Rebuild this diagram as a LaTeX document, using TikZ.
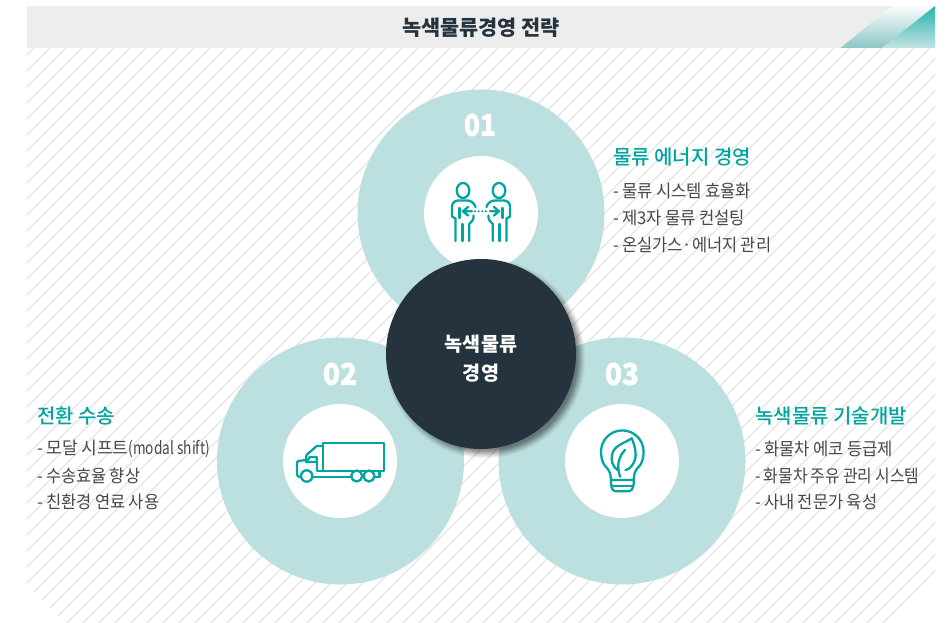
\documentclass[tikz,border=0pt]{standalone}
\usepackage{graphicx}
\usepackage{fontspec}
\setmainfont{Noto Sans CJK KR}
\newfontfamily\itemf{Noto Sans CJK KR}[WordSpace=.9]
\newfontfamily\latf{Noto Sans CJK KR}[FakeStretch=.8,WordSpace=1.1]
\newfontfamily\medf{Noto Sans CJK KR Medium}
\newfontfamily\blackf{Noto Sans CJK KR Black}[FakeBold=1.5]
\newcommand\fitw[2]{\resizebox{#1pt}{\height}{#2}}
\usetikzlibrary{arrows.meta}
\definecolor{tealc}{HTML}{00A5A0}
\definecolor{pale}{HTML}{BCE0E0}
\definecolor{darkc}{HTML}{24333D}
\definecolor{txtc}{HTML}{484848}
\tikzset{
  bigcirc/.style={circle,fill=pale,draw=none,minimum size=247pt,inner sep=0},
  whitecirc/.style={circle,fill=white,draw=none,minimum size=114pt,inner sep=0},
  num/.style={font=\fontsize{30}{30}\blackf,text=white,inner sep=0},
  head/.style={font=\fontsize{20}{24}\medf,text=tealc,anchor=west,inner sep=0},
  item/.style={font=\fontsize{17.5}{20}\itemf,text=txtc,anchor=west,inner sep=0},
  icon/.style={draw=tealc,line width=2.3pt,line join=round,line cap=round},
  hatch/.style={draw=black!10,line width=1.1pt}
}
\begin{document}
\begin{tikzpicture}[x=1pt,y=-1pt]
\useasboundingbox (0,0) rectangle (950,623);
\fill[white] (0,0) rectangle (950,623);
\begin{scope}
\clip (27,48) -- (935,48) -- (935,585) -- (897,623) -- (65,623) -- (27,585) -- cycle;
\foreach \k in {-40,...,70}{
  \draw[hatch] ({562+16*\k-660},660) -- ++(660,-660);
}
\end{scope}
\fill[black!7] (27,6) rectangle (935,48);
\shade[bottom color=teal!45!white,top color=teal!2!white,shading angle=0] (840.5,48) -- (892,6) -- (935,6) -- (882,48) -- cycle;
\shade[bottom color=pale!90!white,top color=tealc!85!white] (882,48) -- (935,6) -- (935,48) -- cycle;
\node[font=\fontsize{20.8}{24}\selectfont\bfseries,text=darkc,inner sep=0] (title) at (481,28) {녹색물류경영 전략};

\node[bigcirc] (c1) at (481,213) {};
\node[bigcirc] (c2) at (340.5,461) {};
\node[bigcirc] (c3) at (622,461) {};
\node[whitecirc] (w1) at (481,213) {};
\node[whitecirc] (w2) at (340,461) {};
\node[whitecirc] (w3) at (622,461) {};
\node[num] (n1) at (480,125) {\fitw{32}{01}};
\node[num] (n2) at (340,374) {\fitw{34}{02}};
\node[num] (n3) at (622,374) {\fitw{34}{03}};

% shadow
\foreach \r/\o in {100/.03,99/.04,98/.05,97/.06,96/.07,95/.08,94/.08,93/.08,92/.08}{
  \fill[black,opacity=\o] (485.5,358.5) circle (\r pt);
}
\node[circle,fill=darkc,minimum size=190pt,inner sep=0] (core) at (481,354) {};
\node[inner sep=0,align=center,text=white,font=\fontsize{19.6}{28.5}\selectfont\bfseries] (corelabel) at (481,358.5) {녹색물류\\경영};

% person icons
\foreach \m in {1,-1}{
\begin{scope}[shift={(481,0)},xscale=\m,shift={(-481,0)}]
\draw[icon] (463,190.5) ellipse (6.3 and 7.5);
\draw[icon] (455.5,241) -- (455.5,218.5) -- (452,216.5) -- (452,206.5) .. controls (452,203) and (455,200.5) .. (458,200.5) -- (467,200.5) .. controls (471,200.5) and (474.5,203) .. (475.5,207);
\draw[icon] (473.5,215.5) .. controls (474,219) and (472,222) .. (469.3,224) -- (469.3,241);
\draw[icon] (462.5,241) -- (462.5,224);
\draw[icon] (459.5,208) -- (459.5,218);
\end{scope}}
\draw[icon] (468,207) -- (463,211.3) -- (468,215.5) (463,211.3) -- (472,211.3);
\draw[icon] (494,207) -- (499,211.3) -- (494,215.5) (499,211.3) -- (490,211.3);
\draw[icon,dash pattern=on 0pt off 3.6pt] (475,211.3) -- (487,211.3);

% truck icon
\draw[icon] (323.3,442.7) rectangle (384,471);
\draw[icon] (323.3,446) -- (316.7,446) -- (306.5,455) -- (306,460) -- (298.5,461) .. controls (297,461) and (297,463) .. (297,464) -- (297,474) .. controls (297,476) and (298,477) .. (300.5,477);
\draw[icon] (310,457) -- (316.7,457) -- (316.7,462) -- (306,462) -- cycle;
\draw[icon] (316.7,462) -- (316.7,471) -- (351,471) (312.5,477) -- (351,477);
\draw[icon] (306.7,476) circle (5.7);
\draw[icon] (356.7,476) circle (5.5);
\draw[icon] (369,476) circle (5.5);
\draw[icon] (375,477) -- (379.5,477) -- (379.5,471);

% bulb icon
\draw[icon] (611,480) -- (610.5,475) .. controls (609.5,470) and (606,467) .. (604,464.5) .. controls (602,461) and (601,456) .. (601,451.7) arc (180:360:21.3) .. controls (643.6,456) and (642.6,461) .. (640.6,464.5) .. controls (638.6,467) and (635,470) .. (634.2,475) -- (634,480) -- cycle;
\draw[icon] (612,485.7) -- (633,485.7);
\draw[icon] (611,480) .. controls (611,484) and (611,491.2) .. (615.5,491.2) -- (629,491.2) .. controls (633,491.2) and (634,484) .. (634,480);
\draw[icon] (620,476.7) .. controls (617.5,468) and (618,463) .. (619.5,459) .. controls (620.5,456) and (622,453) .. (625,450);
\draw[icon] (617.5,470) .. controls (612,466) and (610.5,460) .. (612.5,453) .. controls (615,445) and (625,443) .. (631.7,438.3) .. controls (636,448) and (637,457) .. (633.5,463) .. controls (631.5,467) and (628.5,469.5) .. (625.5,470);

% labels
\node[head] (h1) at (613,157) {물류 에너지 경영};
\node[item] (i11) at (613,190.5) {\fitw{138}{- 물류 시스템 효율화}};
\node[item] (i12) at (613,217.5) {\fitw{132}{- 제3자 물류 컨설팅}};
\node[item] (i13) at (613,244.5) {\fitw{158}{- 온실가스·에너지 관리}};
\node[head] (h2) at (37,416) {전환 수송};
\node[item] (i21) at (37,448.5) {\fitw{173}{- 모달 시프트{\latf(modal shift)}}};
\node[item] (i22) at (37,475.5) {\fitw{103}{- 수송효율 향상}};
\node[item] (i23) at (37,501.5) {\fitw{122}{- 친환경 연료 사용}};
\node[head] (h3) at (755,416) {녹색물류 기술개발};
\node[item] (i31) at (755,448.5) {\fitw{138}{- 화물차 에코 등급제}};
\node[item] (i32) at (755,475.5) {\fitw{164}{- 화물차 주유 관리 시스템}};
\node[item] (i33) at (755,501.5) {\fitw{122}{- 사내 전문가 육성}};
\end{tikzpicture}
\end{document}
